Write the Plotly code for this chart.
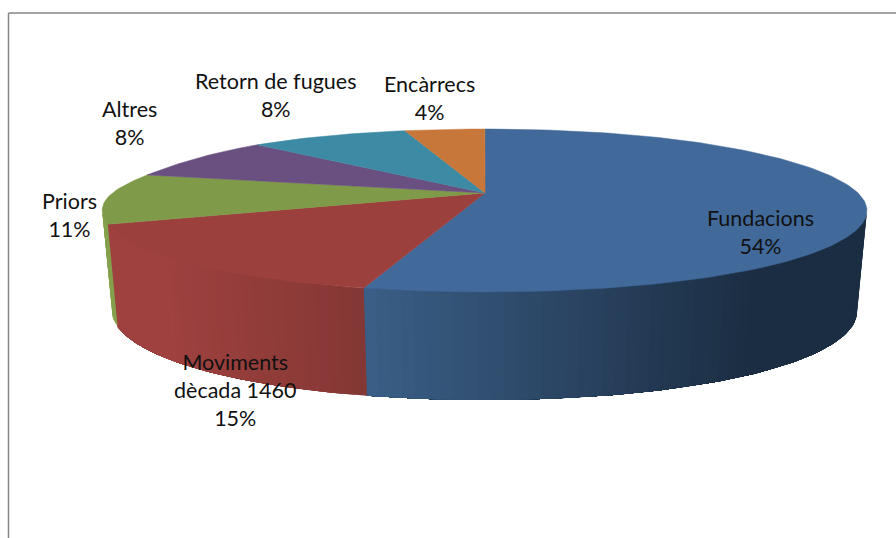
import numpy as np
import plotly.graph_objects as go

categories = ["Fundacions", "Moviments<br>dècada 1460", "Priors", "Altres", "Retorn de fugues", "Encàrrecs"]
values = [54, 15, 11, 8, 8, 4]

top_colors = ["#41699A", "#9C403E", "#7F9A48", "#6A5080", "#3C8AA3", "#C8773A"]
side_near = [(0x3B, 0x5F, 0x87), (0x84, 0x38, 0x35), (0x84, 0xA0, 0x4C), None, None, None]
side_far = [(0x1B, 0x2D, 0x42), (0x9E, 0x41, 0x3F), (0x84, 0xA0, 0x4C), None, None, None]
label_x = [760, 235, 69, 129, 275, 429]
label_y = [232, 390, 215, 123, 95, 98]

CX, CY, A, B, K = 485.0, 193.0, 373.0, 77.7, 0.2147
DROP, SCALE, STRETCH = 100.0, 0.974, 1.11


def project(theta, scale=1.0, dy=0.0, stretch=1.0):
    theta = np.asarray(theta, dtype=float)
    u, v = np.sin(theta), -np.cos(theta)
    s = 1.0 / (1.0 - K * v)
    x = CX + scale * A * u * s * (1 + 0.04 * v ** 4)
    y = CY + dy + scale * stretch * B * v * s
    deg = np.degrees(theta)
    # the original's back-left rim is slightly squarer than a true ellipse
    x = x - 6 * np.exp(-((deg - 300) / 30) ** 2)
    y = y + 4.5 * np.exp(-((deg - 288) / 22) ** 2)
    return x, y


total = sum(values)
edges = np.radians(np.cumsum([0] + values) / total * 360.0)
vis_r = np.pi - np.arccos(K)
vis_l = np.pi + np.arccos(K)

fig = go.Figure()


def poly(xs, ys, color, lw=0.0):
    fig.add_trace(go.Scatter(
        x=list(xs), y=list(ys), mode="lines", fill="toself", fillcolor=color,
        line=dict(color=color, width=lw), hoverinfo="skip", showlegend=False))


# walls: each strip runs to the end of its wedge and the next one paints over it,
# so no seams appear between the colour steps
ref_x = project(edges[1])[0]
for i in range(len(values)):
    if side_near[i] is None:
        continue
    a0, a1 = edges[i], min(edges[i + 1], vis_l)
    if i == 0:
        a0 = vis_r
    if a1 <= a0:
        continue
    n = max(2, int((a1 - a0) / np.radians(1.5)))
    ts = np.linspace(a0, a1, n + 1)
    for j in range(n):
        t = ts[j:]
        xt, yt = project(t)
        xb, yb = project(t[::-1], SCALE, DROP, STRETCH)
        xm = (project(ts[j])[0] + project(ts[j + 1])[0]) / 2
        if i == 0:
            f = min(1.0, (xm - ref_x) / (760 - ref_x))
        elif i == 1:
            f = min(1.0, (ref_x - xm) / (ref_x - 170))
        else:
            f = 0.0
        col = [side_near[i][c] + (side_far[i][c] - side_near[i][c]) * f for c in range(3)]
        poly(np.r_[xt, xb], np.r_[yt, yb], "rgb(%d,%d,%d)" % tuple(col))

# top surfaces
for i in range(len(values)):
    t = np.linspace(edges[i], edges[i + 1], max(12, int(values[i] * 3)))
    x, y = project(t)
    poly(np.r_[CX, x, CX], np.r_[CY, y, CY], top_colors[i], 0.5)

# labels
for name, val, lx, ly in zip(categories, values, label_x, label_y):
    fig.add_annotation(x=lx, y=ly, text=f"{name}<br>{val}%", showarrow=False,
                       font=dict(family="Lato", size=21.5, color="#111111"),
                       xanchor="center", yanchor="middle", align="center")

# chart frame
fig.add_shape(type="line", x0=8.5, x1=896, y0=13, y1=13, line=dict(color="#868686", width=1.5), layer="below")
fig.add_shape(type="line", x0=8.5, x1=8.5, y0=13, y1=538, line=dict(color="#868686", width=1.5), layer="below")

fig.update_layout(
    width=896, height=538, margin=dict(l=0, r=0, t=0, b=0),
    paper_bgcolor="white", plot_bgcolor="white", showlegend=False,
    xaxis=dict(range=[0, 896], visible=False, fixedrange=True),
    yaxis=dict(range=[538, 0], visible=False, fixedrange=True),
)
fig.write_html("out.html", config={"displayModeBar": False},
               post_script="document.body.style.margin='0';document.body.style.overflow='hidden';")
